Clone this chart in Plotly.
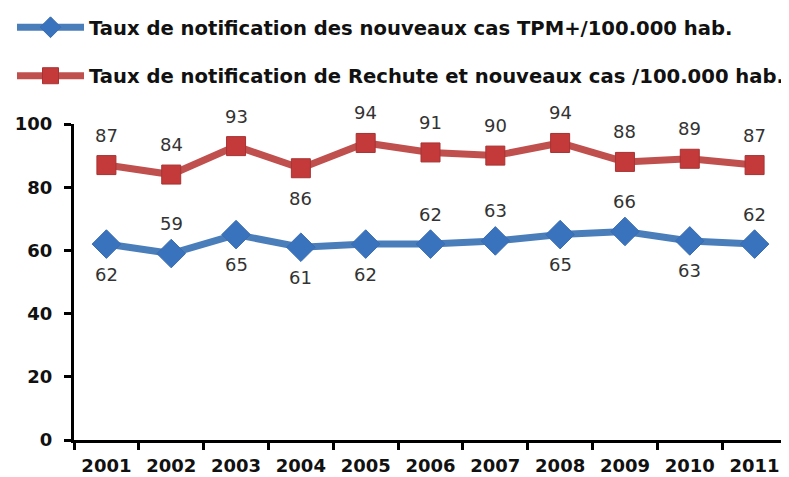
import plotly.graph_objects as go

years = ["2001", "2002", "2003", "2004", "2005", "2006", "2007", "2008", "2009", "2010", "2011"]
tpm = [62, 59, 65, 61, 62, 62, 63, 65, 66, 63, 62]
rechute = [87, 84, 93, 86, 94, 91, 90, 94, 88, 89, 87]
tpm_pos = ["below", "above", "below", "below", "below", "above", "above", "below", "above", "below", "above"]
rechute_pos = ["above", "above", "above", "below", "above", "above", "above", "above", "above", "above", "above"]

name_tpm = "Taux de notification des nouveaux cas TPM+/100.000 hab."
name_rech = "Taux de notification de Rechute et nouveaux cas /100.000 hab."

fig = go.Figure()
fig.add_trace(go.Scatter(
    x=years, y=tpm, name=name_tpm, mode="lines+markers", legendgroup="a",
    line=dict(color="#4A7EBB", width=7),
    marker=dict(symbol="diamond", size=22, color="#3A73BD", line=dict(color="#3A6DB0", width=1)),
))
fig.add_trace(go.Scatter(
    x=years, y=rechute, name=name_rech, mode="lines+markers", legendgroup="b",
    line=dict(color="#C0504D", width=7),
    marker=dict(symbol="square", size=19, color="#C43A3A", line=dict(color="#A83232", width=1)),
))

annotations = []
for ys, pos in ((tpm, tpm_pos), (rechute, rechute_pos)):
    for i, (y, p) in enumerate(zip(ys, pos)):
        annotations.append(dict(
            x=i, y=y, xref="x", yref="y", text=str(y), showarrow=False,
            yshift=30 if p == "above" else -30,
            font=dict(family="DejaVu Sans", size=18, color="#333333"),
        ))

fig.update_layout(
    width=781, height=469,
    margin=dict(l=66, r=2, t=116, b=37),
    paper_bgcolor="white", plot_bgcolor="white",
    annotations=annotations,
    showlegend=True,
    legend=dict(
        x=-0.086, y=1.0, xref="paper", yref="container", xanchor="left", yanchor="top",
        orientation="v", traceorder="grouped", tracegroupgap=20, itemwidth=67,
        font=dict(family="DejaVu Sans", size=19.6, color="#111111", weight="bold"),
        bgcolor="rgba(0,0,0,0)",
    ),
    xaxis=dict(
        type="category", tickson="boundaries", showline=True, linecolor="black", linewidth=3,
        ticks="outside", ticklen=7, tickwidth=3, tickcolor="black", showgrid=False,
        tickfont=dict(family="DejaVu Sans", size=18, color="#111111", weight="bold"),
        range=[-0.5, 10.5], ticklabelstandoff=7,
    ),
    yaxis=dict(
        range=[0, 100], tickvals=[0, 20, 40, 60, 80, 100], showline=True, linecolor="black", linewidth=3,
        ticks="outside", ticklen=7, tickwidth=3, tickcolor="black", showgrid=False, zeroline=False,
        tickfont=dict(family="DejaVu Sans", size=18, color="#111111", weight="bold"),
        ticklabelstandoff=8,
    ),
)
fig.write_html("out.html")
